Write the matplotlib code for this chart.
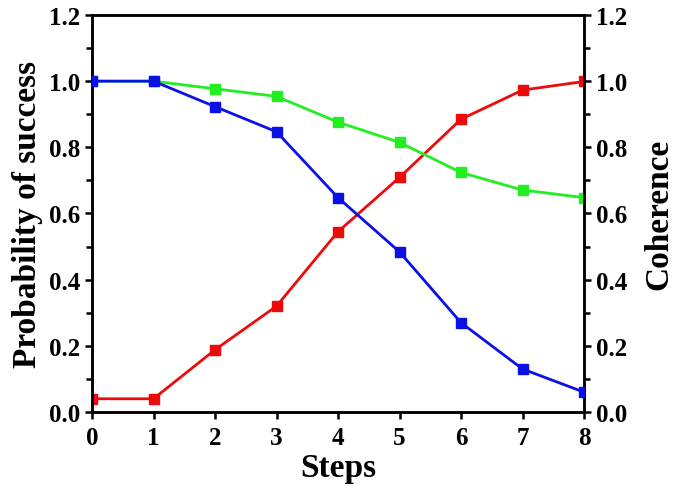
import matplotlib
matplotlib.use('Agg')
import matplotlib.pyplot as plt
import numpy as np
from matplotlib.ticker import MultipleLocator

steps = [0, 1, 2, 3, 4, 5, 6, 7, 8]
prob_success = [0.04, 0.04, 0.188, 0.32, 0.545, 0.709, 0.885, 0.973, 0.999]
coherence_green = [1.0, 1.0, 0.977, 0.954, 0.876, 0.815, 0.724, 0.671, 0.648]
coherence_blue = [1.0, 1.0, 0.923, 0.847, 0.648, 0.484, 0.27, 0.13, 0.06]

plt.rcParams['font.family'] = ['Liberation Serif', 'DejaVu Serif']
plt.rcParams['font.weight'] = 'bold'

fig = plt.figure(figsize=(6.78, 4.89), dpi=100)
# axes box in pixels: left 92, right 584, top 16, bottom 413
ax = fig.add_axes([92/678, 76/489, 492/678, 397/489])
ax2 = ax.twinx()

ax2.plot(steps, coherence_green, '-s', color='#22ee22', lw=2, ms=6.5, zorder=2)
ax2.plot(steps, coherence_blue, '-s', color='#0a10e6', lw=2, ms=6.5, zorder=3)
ax.plot(steps, prob_success, '-s', color='#ee0a0a', lw=2, ms=6.5)

for a in (ax, ax2):
    a.set_xlim(0, 8)
    a.set_ylim(0, 1.2)
    a.yaxis.set_major_locator(MultipleLocator(0.2))
    a.yaxis.set_minor_locator(MultipleLocator(0.1))
    a.yaxis.set_major_formatter(matplotlib.ticker.FormatStrFormatter('%.1f'))
    for s in a.spines.values():
        s.set_linewidth(1.8)
    a.tick_params(which='major', direction='out', length=5, width=1.8, labelsize=18)
    a.tick_params(which='minor', direction='out', length=4, width=1.8)

ax.xaxis.set_major_locator(MultipleLocator(1))
ax.tick_params(axis='x', pad=5)
ax.tick_params(top=False)

ax.set_xlabel('Steps', fontsize=24, fontweight='bold', labelpad=2)
ax.set_ylabel('Probability of success', fontsize=24, fontweight='bold', labelpad=4)
ax2.set_ylabel('Coherence', fontsize=24, fontweight='bold', labelpad=12)

fig.savefig('out.png', dpi=100)
